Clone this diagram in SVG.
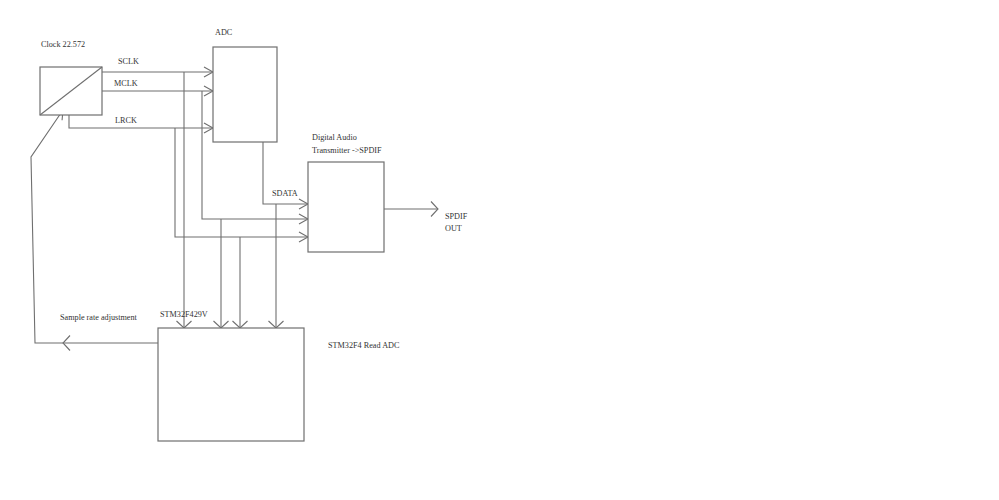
<svg xmlns="http://www.w3.org/2000/svg" width="999" height="500" viewBox="0 0 999 500">
<style>
.box{fill:#fff;stroke:#6f6f6f;stroke-width:1.2}
.ln{fill:none;stroke:#6f6f6f;stroke-width:1.1}
text{font-family:"Liberation Serif","Times New Roman",serif;font-size:8.2px;fill:#333}
</style>
<defs>
<marker id="ah" viewBox="-10 -6 12 12" refX="0" refY="0" markerWidth="12" markerHeight="12" markerUnits="userSpaceOnUse" orient="auto">
<path d="M-9,-5 L0,0 L-9,5" fill="none" stroke="#6f6f6f" stroke-width="1.1"/>
</marker>
<marker id="ad" viewBox="-10 -9 12 18" refX="0" refY="0" markerWidth="12" markerHeight="18" markerUnits="userSpaceOnUse" orient="auto">
<path d="M-7,-7.5 L0,0 L-7,7.5" fill="none" stroke="#6f6f6f" stroke-width="1.1"/>
</marker>
</defs>
<rect width="999" height="500" fill="#fff"/>
<g id="connectors">
<path class="ln" d="M102,72 H213" marker-end="url(#ah)"/>
<path class="ln" d="M102,91 H213" marker-end="url(#ah)"/>
<path class="ln" d="M69,115 V128 H213" marker-end="url(#ah)"/>
<path class="ln" d="M184,72 V328" marker-end="url(#ad)"/>
<path class="ln" d="M202,91 V219 H308" marker-end="url(#ah)"/>
<path class="ln" d="M221,219 V328" marker-end="url(#ad)"/>
<path class="ln" d="M175,128 V237 H308" marker-end="url(#ah)"/>
<path class="ln" d="M240,237 V328" marker-end="url(#ad)"/>
<path class="ln" d="M263,142 V204 H308" marker-end="url(#ah)"/>
<path class="ln" d="M276,204 V328" marker-end="url(#ad)"/>
<path class="ln" d="M384,209 H438" marker-end="url(#ad)"/>
<path class="ln" d="M158,343 H63" marker-end="url(#ad)"/>
<path class="ln" d="M63,343 H35 L31,157 L63,110" marker-end="url(#ah)"/>
</g>
<g id="clock">
<rect class="box" x="40" y="67" width="62" height="48"/>
<path class="ln" d="M40,115 L102,67"/>
<text x="41" y="47">Clock 22.572</text>
</g>
<g id="adc">
<rect class="box" x="213" y="47" width="64" height="95"/>
<text x="215" y="35">ADC</text>
</g>
<g id="dat">
<rect class="box" x="308" y="162" width="76" height="90"/>
<text x="312" y="140">Digital Audio</text>
<text x="312" y="153">Transmitter -&gt;SPDIF</text>
</g>
<g id="stm">
<rect class="box" x="158" y="328" width="146" height="113"/>
<text x="160" y="317">STM32F429V</text>
<text x="328" y="348">STM32F4 Read ADC</text>
</g>
<g id="labels">
<text x="118" y="64">SCLK</text>
<text x="114" y="86">MCLK</text>
<text x="115" y="123">LRCK</text>
<text x="272" y="196">SDATA</text>
<text x="445" y="219">SPDIF</text>
<text x="445" y="231">OUT</text>
<text x="60" y="320">Sample rate adjustment</text>
</g>
</svg>
